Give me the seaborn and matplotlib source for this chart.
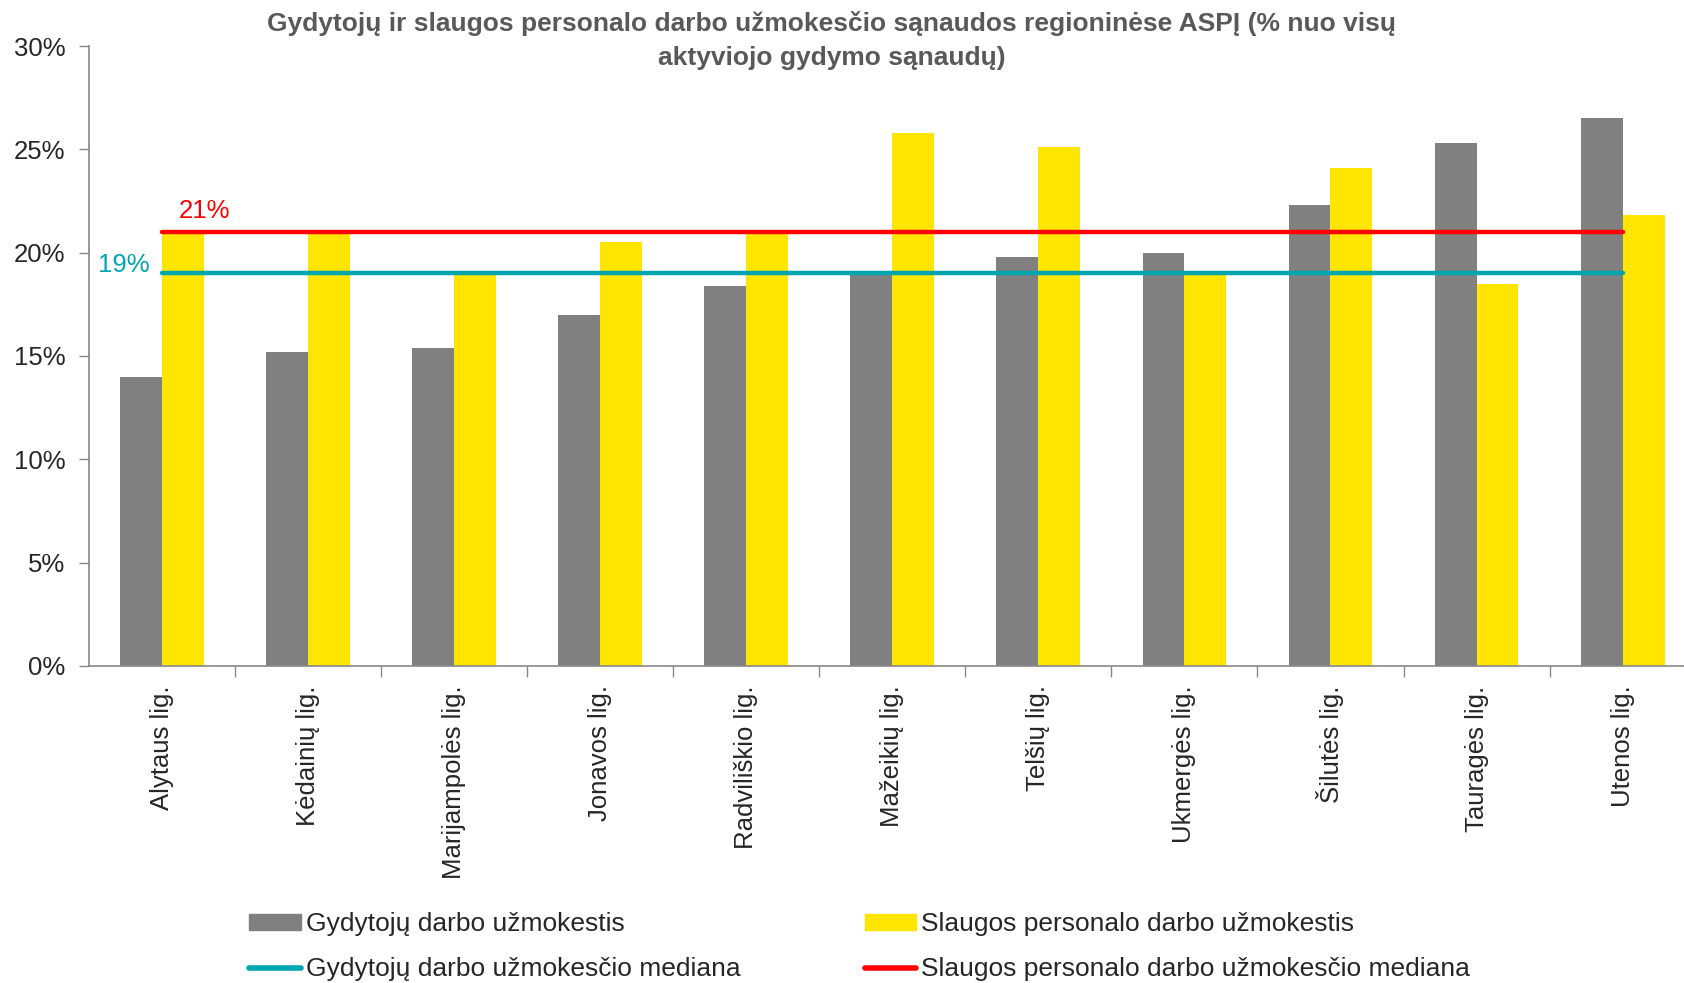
import numpy as np
import pandas as pd
import matplotlib
matplotlib.use('Agg')
import matplotlib.pyplot as plt
import seaborn as sns
from matplotlib.lines import Line2D
from matplotlib.patches import Patch
from matplotlib.ticker import FuncFormatter, FixedLocator

# data (% of active treatment costs)
hospitals = ['Alytaus lig.', 'Kėdainių lig.', 'Marijampolės lig.', 'Jonavos lig.',
             'Radviliškio lig.', 'Mažeikių lig.', 'Telšių lig.', 'Ukmergės lig.',
             'Šilutės lig.', 'Tauragės lig.', 'Utenos lig.']
doctors = [14.0, 15.2, 15.4, 17.0, 18.4, 19.0, 19.8, 20.0, 22.3, 25.3, 26.5]
nurses = [20.9, 20.9, 18.9, 20.5, 20.9, 25.8, 25.1, 18.9, 24.1, 18.5, 21.8]
doctors_median = 19
nurses_median = 21

series_names = ['Gydytojų darbo užmokestis', 'Slaugos personalo darbo užmokestis']
median_names = ['Gydytojų darbo užmokesčio mediana', 'Slaugos personalo darbo užmokesčio mediana']
title = 'Gydytojų ir slaugos personalo darbo užmokesčio sąnaudos regioninėse ASPĮ (% nuo visų\naktyviojo gydymo sąnaudų)'

GRAY = '#808080'
YELLOW = '#FFE500'
TEAL = '#00A5AE'
RED = '#FF0000'

df = pd.DataFrame({
    'hospital': hospitals * 2,
    'value': doctors + nurses,
    'series': [series_names[0]] * len(hospitals) + [series_names[1]] * len(hospitals),
})

sns.set_style('white')
plt.rcParams['font.family'] = ['Liberation Sans', 'DejaVu Sans']

fig = plt.figure(figsize=(16.84, 9.83), dpi=100)
ax = fig.add_axes([0.0529, 0.3225, 0.954, 0.6307])

sns.barplot(data=df, x='hospital', y='value', hue='series', order=hospitals,
            hue_order=series_names, palette=[GRAY, YELLOW], width=0.574,
            saturation=1, ax=ax, legend=False, edgecolor='none')

n = len(hospitals)
ax.plot([0, n - 1], [doctors_median] * 2, color=TEAL, lw=3.2, solid_capstyle='round', zorder=5)
ax.plot([0, n - 1], [nurses_median] * 2, color=RED, lw=3.2, solid_capstyle='round', zorder=5)
ax.text(0.29, 22.0, f'{nurses_median}%', color=RED, fontsize=18.5, ha='center', va='center')
ax.text(-0.26, 19.4, f'{doctors_median}%', color=TEAL, fontsize=18.5, ha='center', va='center')

ax.set_xlim(-0.5, n - 0.5)
ax.set_ylim(0, 30)
ax.set_yticks(np.arange(0, 31, 5))
ax.yaxis.set_major_formatter(FuncFormatter(lambda v, p: f'{v:.0f}%'))
ax.set_xlabel('')
ax.set_ylabel('')
ax.tick_params(axis='y', labelsize=18.5, length=7, width=1, color='#888888', direction='out', left=True, pad=10)
ax.tick_params(axis='x', which='major', labelsize=18.5, length=0, pad=14, rotation=90)
ax.xaxis.set_minor_locator(FixedLocator(np.arange(0.5, n, 1)))
ax.tick_params(axis='x', which='minor', length=8, width=1, color='#888888', direction='out', bottom=True)

for side in ['top', 'right']:
    ax.spines[side].set_visible(False)
for side in ['left', 'bottom']:
    ax.spines[side].set_color('#888888')
    ax.spines[side].set_linewidth(1.2)

fig.text(0.494, 0.959, title, ha='center', va='center', fontsize=19, fontweight='bold',
         color='#595959', linespacing=1.54)

handles = [Patch(color=GRAY), Line2D([], [], color=TEAL, lw=4, solid_capstyle='round'),
           Patch(color=YELLOW), Line2D([], [], color=RED, lw=4, solid_capstyle='round')]
labels = [series_names[0], median_names[0], series_names[1], median_names[1]]
fig.legend(handles, labels, loc='upper left', bbox_to_anchor=(0.148, 0.072), ncol=2,
           frameon=False, fontsize=19, handlelength=1.95, handleheight=0.55,
           handletextpad=0.2, columnspacing=4.7, labelspacing=0.8, borderpad=0,
           borderaxespad=0)

fig.savefig('out.png', dpi=100)
